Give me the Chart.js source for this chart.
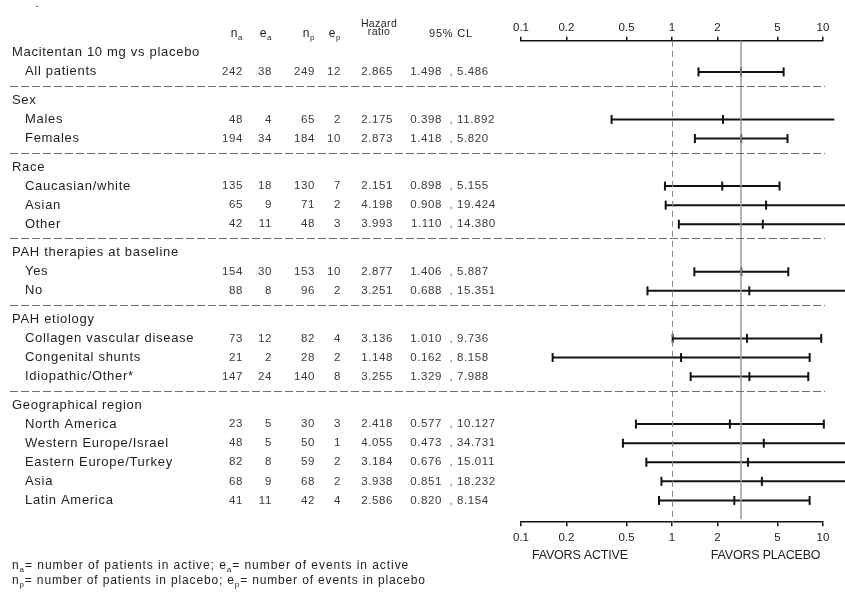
<!DOCTYPE html>
<html>
<head>
<meta charset="utf-8">
<script src="https://cdn.jsdelivr.net/npm/chart.js@4.4.1/dist/chart.umd.min.js"></script>
<style>
html, body { margin: 0; padding: 0; background: #fff; }
#wrap { width: 845px; height: 594px; position: relative; }
</style>
</head>
<body>
<div id="wrap"><canvas id="forest"></canvas></div>
<script>
// forest plot: hazard ratios with 95% CL per subgroup
const groupTitles = ['Macitentan 10 mg vs placebo', 'Sex', 'Race', 'PAH therapies at baseline', 'PAH etiology', 'Geographical region'];
const subgroups = ['All patients', 'Males', 'Females', 'Caucasian/white', 'Asian', 'Other', 'Yes', 'No',
    'Collagen vascular disease', 'Congenital shunts', 'Idiopathic/Other*', 'North America',
    'Western Europe/Israel', 'Eastern Europe/Turkey', 'Asia', 'Latin America'];
const subgroupOf = [0, 1, 1, 2, 2, 2, 3, 3, 4, 4, 4, 5, 5, 5, 5, 5];
const nActive = [242, 48, 194, 135, 65, 42, 154, 88, 73, 21, 147, 23, 48, 82, 68, 41];
const eActive = [38, 4, 34, 18, 9, 11, 30, 8, 12, 2, 24, 5, 5, 8, 9, 11];
const nPlacebo = [249, 65, 184, 130, 71, 48, 153, 96, 82, 28, 140, 30, 50, 59, 68, 42];
const ePlacebo = [12, 2, 10, 7, 2, 3, 10, 2, 4, 2, 8, 3, 1, 2, 2, 4];
const hazardRatio = [2.865, 2.175, 2.873, 2.151, 4.198, 3.993, 2.877, 3.251, 3.136, 1.148, 3.255, 2.418, 4.055, 3.184, 3.938, 2.586];
const ciLower = [1.498, 0.398, 1.418, 0.898, 0.908, 1.110, 1.406, 0.688, 1.010, 0.162, 1.329, 0.577, 0.473, 0.676, 0.851, 0.820];
const ciUpper = [5.486, 11.892, 5.820, 5.155, 19.424, 14.380, 5.887, 15.351, 9.736, 8.158, 7.988, 10.127, 34.731, 15.011, 18.232, 8.154];
const axisTicks = [0.1, 0.2, 0.5, 1, 2, 5, 10];
const overallHR = hazardRatio[0];

// row positions (in row units), extra gap between groups
const groupGap = 0.49;
const titlePos = [];
const rowPos = [];
let line = 0;
groupTitles.forEach((t, g) => {
    titlePos[g] = line + g * groupGap; line++;
    subgroupOf.forEach((sg, i) => {
        if (sg === g) { rowPos[i] = line + g * groupGap; line++; }
    });
});
const sepPos = groupTitles.slice(1).map((t, k) => {
    const g = k + 1;
    const lastPrev = Math.max(...rowPos.filter((p, i) => subgroupOf[i] === g - 1));
    return (lastPrev + titlePos[g]) / 2;
});

const FONT = "'Liberation Sans', Arial, sans-serif";
const INK = '#1e1e1e';
const NUM = '#3a3a3a';
const col = { na: 243, ea: 272, np: 315, ep: 341, hr: 393, lo: 442, comma: 451, hi: 457 };

function txt(ctx, s, x, y, size, align, color, spacing) {
    ctx.font = size + 'px ' + FONT;
    ctx.letterSpacing = (spacing || 0) + 'px';
    ctx.textAlign = align;
    ctx.fillStyle = color;
    ctx.fillText(s, x, y);
}

// text runs with subscripts
function runs(ctx, parts, x, y, size, subSize, align, color, spacing) {
    ctx.letterSpacing = spacing + 'px';
    let total = 0;
    parts.forEach(p => {
        ctx.font = (p.sub ? subSize : size) + 'px ' + FONT;
        p.w = ctx.measureText(p.t).width;
        total += p.w;
    });
    let cx = align === 'right' ? x - total : align === 'center' ? x - total / 2 : x;
    ctx.textAlign = 'left';
    ctx.fillStyle = color;
    parts.forEach(p => {
        ctx.font = (p.sub ? subSize : size) + 'px ' + FONT;
        ctx.fillText(p.t, cx, p.sub ? y + 4 : y);
        cx += p.w;
    });
}

const refLines = {
    id: 'refLines',
    afterDatasetsDraw(chart) {
        const ctx = chart.ctx, xs = chart.scales.x, ys = chart.scales.y, area = chart.chartArea;
        ctx.save();
        ctx.lineWidth = 1;
        ctx.strokeStyle = '#8a8a8a';
        ctx.setLineDash([6, 4]);
        const x1 = Math.round(xs.getPixelForValue(1)) + 0.5;
        ctx.beginPath(); ctx.moveTo(x1, area.top); ctx.lineTo(x1, area.bottom); ctx.stroke();
        ctx.setLineDash([]);
        ctx.strokeStyle = '#9a9a9a';
        ctx.lineWidth = 1.5;
        const xh = xs.getPixelForValue(overallHR);
        ctx.beginPath(); ctx.moveTo(xh, area.top); ctx.lineTo(xh, area.bottom - 3); ctx.stroke();
        // group separators
        ctx.strokeStyle = '#6e6e6e';
        ctx.lineWidth = 1;
        ctx.setLineDash([8, 3]);
        sepPos.forEach(p => {
            const y = Math.round(ys.getPixelForValue(p)) + 0.5;
            ctx.beginPath(); ctx.moveTo(10, y); ctx.lineTo(xs.right + 2, y); ctx.stroke();
        });
        ctx.restore();
    }
};

const textLayer = {
    id: 'textLayer',
    afterDraw(chart) {
        const ctx = chart.ctx, xs = chart.scales.x, ys = chart.scales.y;
        ctx.save();
        ctx.textBaseline = 'middle';

        txt(ctx, '-', 37, 7, 9, 'center', '#444', 0);

        // header
        const hy = ys.getPixelForValue(-1);
        runs(ctx, [{ t: 'n' }, { t: 'a', sub: true }], col.na, hy, 12, 8, 'right', INK, 0.6);
        runs(ctx, [{ t: 'e' }, { t: 'a', sub: true }], col.ea, hy, 12, 8, 'right', INK, 0.6);
        runs(ctx, [{ t: 'n' }, { t: 'p', sub: true }], col.np, hy, 12, 8, 'right', INK, 0.6);
        runs(ctx, [{ t: 'e' }, { t: 'p', sub: true }], col.ep, hy, 12, 8, 'right', INK, 0.6);
        txt(ctx, 'Hazard', 379, hy - 10, 10.5, 'center', INK, 0.4);
        txt(ctx, 'ratio', 379, hy - 2, 10.5, 'center', INK, 0.4);
        txt(ctx, '95% CL', 451, hy, 11, 'center', INK, 0.8);

        groupTitles.forEach((t, g) => {
            txt(ctx, t, 12, ys.getPixelForValue(titlePos[g]), 13, 'left', INK, 0.7);
        });
        subgroups.forEach((s, i) => {
            const y = ys.getPixelForValue(rowPos[i]);
            txt(ctx, s, 25, y, 13, 'left', INK, 0.7);
            txt(ctx, String(nActive[i]), col.na, y, 11.5, 'right', NUM, 0.6);
            txt(ctx, String(eActive[i]), col.ea, y, 11.5, 'right', NUM, 0.6);
            txt(ctx, String(nPlacebo[i]), col.np, y, 11.5, 'right', NUM, 0.6);
            txt(ctx, String(ePlacebo[i]), col.ep, y, 11.5, 'right', NUM, 0.6);
            txt(ctx, hazardRatio[i].toFixed(3), col.hr, y, 11.5, 'right', NUM, 0.6);
            txt(ctx, ciLower[i].toFixed(3), col.lo, y, 11.5, 'right', NUM, 0.6);
            txt(ctx, ',', col.comma, y, 11.5, 'center', '#b05050', 0);
            txt(ctx, ciUpper[i].toFixed(3), col.hi, y, 11.5, 'left', NUM, 0.6);
        });

        // favors labels under the bottom axis
        const fy = chart.height - 38;
        txt(ctx, 'FAVORS ACTIVE', xs.left + xs.width * 0.195, fy, 12.5, 'center', INK, -0.2);
        txt(ctx, 'FAVORS PLACEBO', xs.left + xs.width * 0.81, fy, 12.5, 'center', INK, -0.2);

        // footnotes
        runs(ctx, [{ t: 'n' }, { t: 'a', sub: true }, { t: '= number of patients in active; e' }, { t: 'a', sub: true },
            { t: '= number of events in active' }], 12, chart.height - 28, 12, 8, 'left', INK, 0.95);
        runs(ctx, [{ t: 'n' }, { t: 'p', sub: true }, { t: '= number of patients in placebo; e' }, { t: 'p', sub: true },
            { t: '= number of events in placebo' }], 12, chart.height - 13, 12, 8, 'left', INK, 0.85);
        ctx.restore();
    }
};

function logAxis(position, pad) {
    return {
        type: 'logarithmic',
        position: position,
        min: 0.1,
        max: 10,
        afterBuildTicks: s => { s.ticks = axisTicks.map(v => ({ value: v })); },
        border: { display: true, color: '#111', width: 1.5 },
        grid: { drawOnChartArea: false, drawTicks: true, tickLength: 4, color: '#111', lineWidth: 1.5 },
        ticks: {
            color: '#222', padding: pad, autoSkip: false, maxRotation: 0,
            font: { family: FONT, size: 11.5 },
            callback: v => String(v),
        },
    };
}

const ciSets = subgroups.map((s, i) => ({
    label: s,
    data: [{ x: ciLower[i], y: rowPos[i] }, { x: ciUpper[i], y: rowPos[i] }],
    showLine: true,
    borderColor: '#111',
    borderWidth: 2,
    pointStyle: 'line',
    rotation: 90,
    pointRadius: 4.5,
    pointBorderWidth: 2,
    pointBorderColor: '#111',
    clip: false,
    xAxisID: 'x',
    yAxisID: 'y',
}));

const hrSet = {
    label: 'Hazard ratio',
    data: subgroups.map((s, i) => ({ x: hazardRatio[i], y: rowPos[i] })),
    showLine: false,
    pointStyle: 'line',
    rotation: 90,
    pointRadius: 4.5,
    pointBorderWidth: 2,
    pointBorderColor: '#111',
    clip: false,
    xAxisID: 'x',
    yAxisID: 'y',
};

new Chart(document.getElementById('forest'), {
    type: 'scatter',
    data: { datasets: [...ciSets, hrSet] },
    options: {
        responsive: true,
        maintainAspectRatio: false,
        animation: false,
        events: [],
        layout: { padding: { left: 521, right: 22, top: 19, bottom: 44 } },
        scales: {
            x: logAxis('top', 2),
            x2: logAxis('bottom', 5),
            y: { type: 'linear', reverse: true, min: -0.63, max: 24.59, display: false },
        },
        plugins: { legend: { display: false }, tooltip: { enabled: false } },
    },
    plugins: [refLines, textLayer],
});
</script>
</body>
</html>
